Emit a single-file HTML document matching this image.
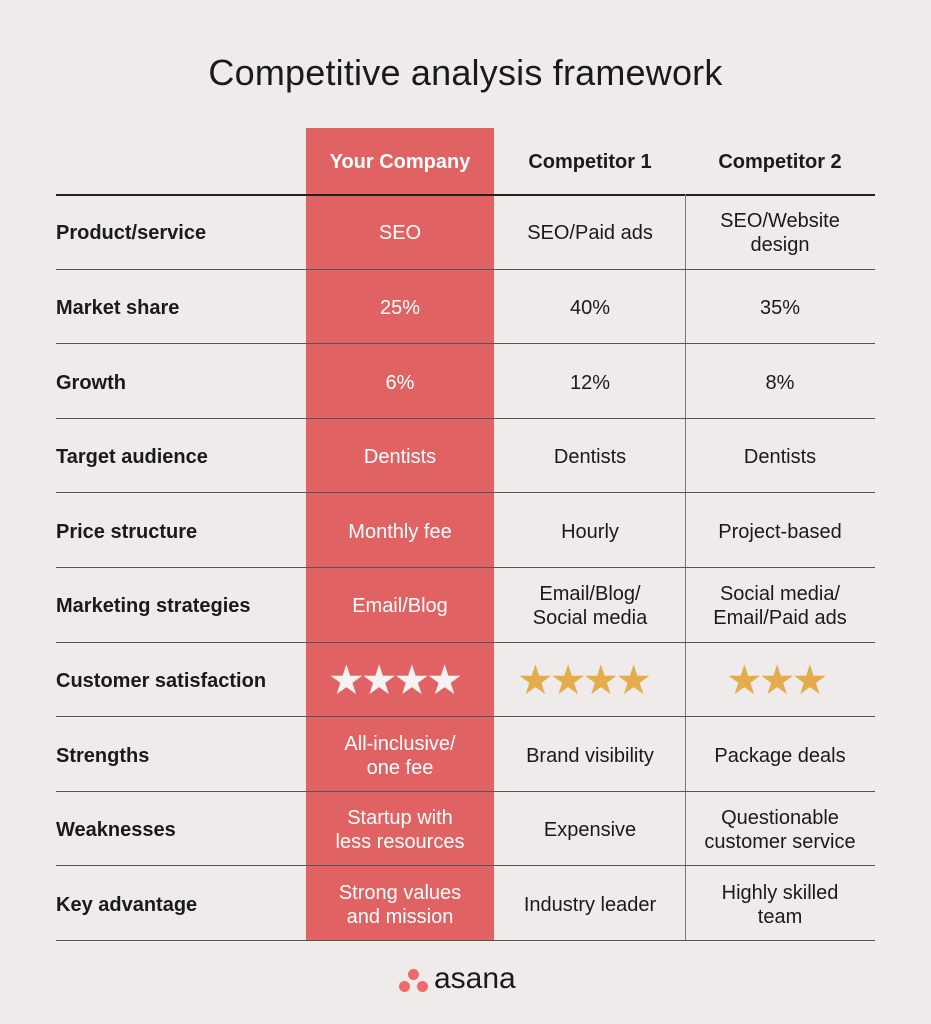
<!DOCTYPE html>
<html><head><meta charset="utf-8"><style>
body{margin:0;width:931px;height:1024px;background:#efebeb;font-family:"Liberation Sans",sans-serif;position:relative;overflow:hidden;color:#1a1a1a}
.a{position:absolute}
.t{position:absolute;left:0;width:931px;top:52px;text-align:center;font-size:36px;font-weight:500;letter-spacing:0.2px}
.red{position:absolute;left:306px;top:128px;width:188px;height:812px;background:#e06262}
.h{position:absolute;top:151px;font-size:20px;font-weight:bold;text-align:center;width:190px}
.hl{position:absolute;left:56px;width:819px;height:1px;background:#555}
.lbl{position:absolute;left:56px;font-size:20px;font-weight:bold;line-height:24px}
.c{position:absolute;width:190px;text-align:center;font-size:20px;line-height:24px}
.w{color:#fff}
.st{position:absolute;top:660px;font-size:41px;line-height:41px;letter-spacing:-4px}
</style></head><body>
<div class="t">Competitive analysis framework</div>
<div class="red"></div>
<div class="h w" style="left:305px">Your Company</div>
<div class="h" style="left:495px">Competitor 1</div>
<div class="h" style="left:685px">Competitor 2</div>
<div class="hl" style="top:194px;background:#222;height:1.5px"></div>
<div class="a" style="left:685px;top:194px;width:1px;height:746px;background:#777"></div>
<div id="rows"></div>
<div class="a" style="left:408px;top:969px;width:11px;height:11px;border-radius:50%;background:#f06a6a"></div>
<div class="a" style="left:399px;top:981px;width:11px;height:11px;border-radius:50%;background:#f06a6a"></div>
<div class="a" style="left:417px;top:981px;width:11px;height:11px;border-radius:50%;background:#f06a6a"></div>
<div class="a" style="left:434px;top:962px;font-size:30px;font-weight:500">asana</div>
<div class="st" style="left:328px;color:#f4f2f2">★★★★</div>
<div class="st" style="left:517px;color:#e3ac4c">★★★★</div>
<div class="st" style="left:726px;color:#e3ac4c">★★★</div>
<script>
(function(){
var rows=[["Product/service","SEO","SEO/Paid ads","SEO/Website<br>design"],
["Market share","25%","40%","35%"],["Growth","6%","12%","8%"],
["Target audience","Dentists","Dentists","Dentists"],
["Price structure","Monthly fee","Hourly","Project-based"],
["Marketing strategies","Email/Blog","Email/Blog/<br>Social media","Social media/<br>Email/Paid ads"],
["Customer satisfaction","","",""],
["Strengths","All-inclusive/<br>one fee","Brand visibility","Package deals"],
["Weaknesses","Startup with<br>less resources","Expensive","Questionable<br>customer service"],
["Key advantage","Strong values<br>and mission","Industry leader","Highly skilled<br>team"]];
var h="",y0=194,rh=74.6;
rows.forEach(function(r,i){var y=y0+i*rh,cy=y+rh/2+2;
h+='<div class="lbl" style="top:'+(cy-12)+'px">'+r[0]+'</div>';
[305,495,685].forEach(function(x,j){var t=r[j+1];var two=t.indexOf("<br>")>=0;
h+='<div class="c'+(j==0?' w':'')+'" style="left:'+x+'px;top:'+(cy-(two?24:12))+'px">'+t+'</div>';});
h+='<div class="hl" style="top:'+Math.round(y+rh)+'px"></div>';});
document.getElementById("rows").innerHTML=h;
})();
</script>
</body></html>
